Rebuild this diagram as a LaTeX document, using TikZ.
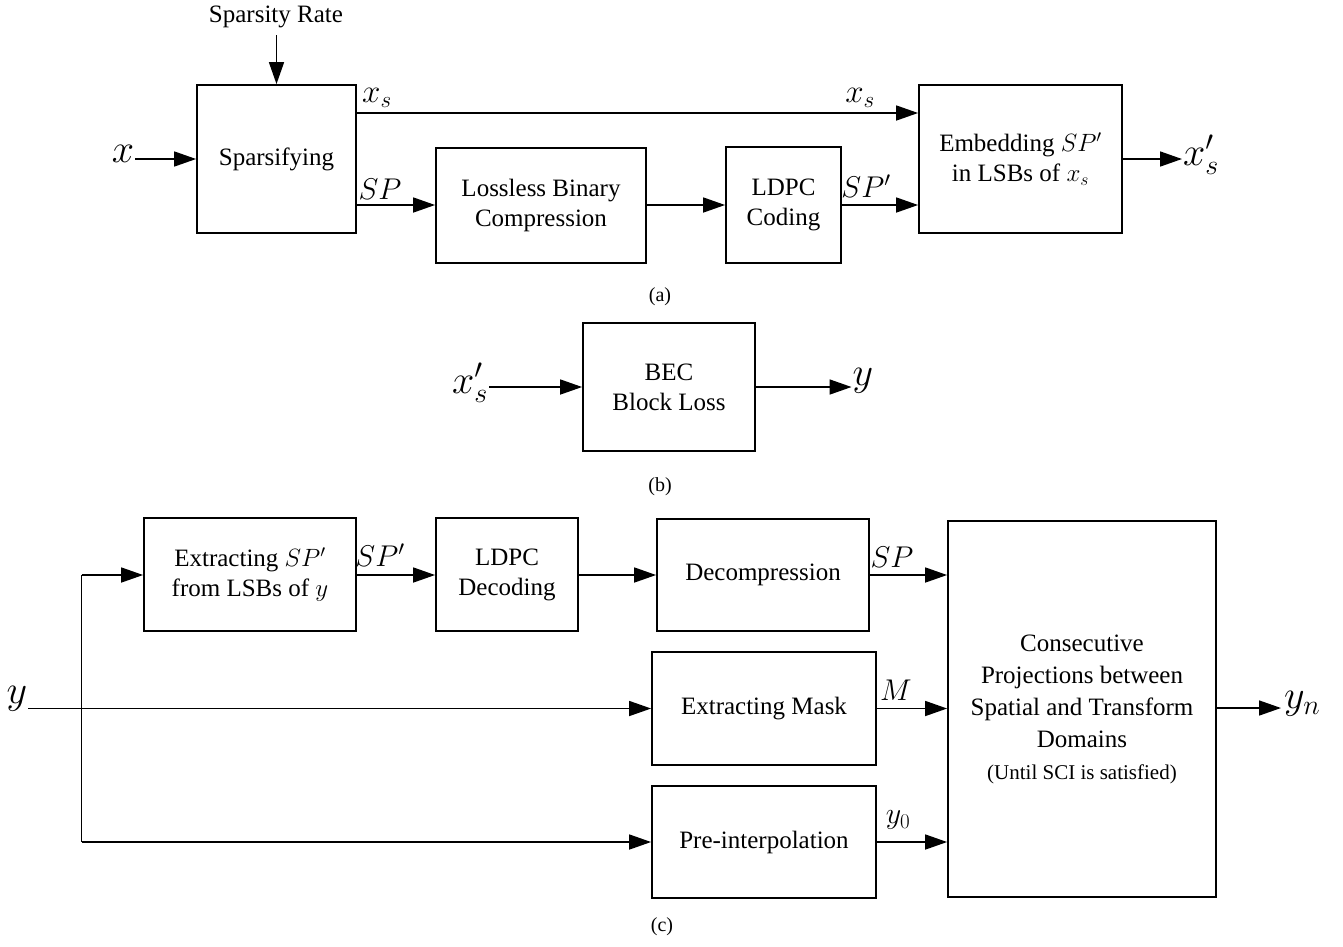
\RequirePackage{fix-cm}
\documentclass[tikz,border=0pt]{standalone}
\usepackage{fontspec}
\setmainfont{Liberation Serif}
\usetikzlibrary{arrows.meta}
\begin{document}
\begin{tikzpicture}[x=1pt,y=-1pt,
  blk/.style={draw, line width=1.8pt, align=center, inner sep=0pt, font=\fontsize{25}{30}\selectfont},
  arr/.style={line width=1.6pt, -{Triangle[length=22pt,width=15pt]}},
  ln/.style={line width=1.6pt},
  lbl/.style={font=\fontsize{30}{30}\selectfont, inner sep=1pt},
  lblx/.style={font=\fontsize{33}{33}\selectfont, inner sep=1pt},
  big/.style={font=\fontsize{40}{44}\selectfont, inner sep=1pt},
  captxt/.style={font=\fontsize{20}{24}\selectfont},
  txt/.style={font=\fontsize{25}{30}\selectfont, inner sep=2pt}]
\useasboundingbox (0,0) rectangle (1343,946);

% ---------------- (a)
\node[blk, minimum width=159pt, minimum height=148pt] (spar) at (276.5,159) {Sparsifying};
\node[blk, minimum width=210pt, minimum height=115pt] (lbc) at (541,205.5) {Lossless Binary\\Compression};
\node[blk, minimum width=115pt, minimum height=116pt] (ldpc) at (783.5,205) {LDPC\\Coding};
\node[blk, minimum width=203pt, minimum height=148pt] (emb) at (1020.5,159) {Embedding $SP'$\\in LSBs of $x_s$};

\node[txt] (sr) at (276,17) {Sparsity Rate};
\draw[arr] ([yshift=-5pt]sr.south -| spar.north) -- (spar.north);

\node[big] (xin) at (123,154) {$x$};
\draw[arr] (xin.east |- spar.west) -- (spar.west);

\coordinate (xsa) at (356,113);
\coordinate (xsb) at (919,113);
\draw[arr] (spar.east |- xsa) -- (emb.west |- xsb);
\node[lblx] (xs1) at (377,98) {$x_s$};
\node[lblx] (xs2) at (860,98) {$x_s$};

\coordinate (spy) at (0,205);
\draw[arr] (spar.east |- spy) -- (lbc.west |- spy);
\node[lbl] (sp1) at (380,189) {$SP$};
\draw[arr] (lbc.east |- spy) -- (ldpc.west |- spy);
\draw[arr] (ldpc.east |- spy) -- (emb.west |- spy);
\node[lbl] (sp2) at (866,186) {$SP'$};

\node[big, anchor=west] (xout) at (1182,155) {$x_s^{\prime}$};
\draw[arr] (emb.east) -- (xout.west |- emb.east);

\node[captxt] (capa) at (660,297) {(a)};

% ---------------- (b)
\node[blk, minimum width=172pt, minimum height=128pt] (bec) at (669,387) {BEC\\Block Loss};
\node[big, anchor=east] (xin2) at (489,383) {$x_s^{\prime}$};
\draw[arr] (xin2.east |- bec.west) -- (bec.west);
\node[big] (yb) at (863,381) {$y$};
\draw[arr] (bec.east) -- (yb.west |- bec.east);
\node[captxt] (capb) at (660,487) {(b)};

% ---------------- (c)
\node[blk, minimum width=212pt, minimum height=113pt] (ext) at (250,574.5) {Extracting $SP'$\\from LSBs of $y$};
\node[blk, minimum width=142pt, minimum height=113pt] (ldpcd) at (507,574.5) {LDPC\\Decoding};
\node[blk, minimum width=212pt, minimum height=112pt] (dec) at (763,575) {Decompression};
\node[blk, minimum width=224pt, minimum height=113pt] (mask) at (764,708.5) {Extracting Mask};
\node[blk, minimum width=224pt, minimum height=112pt] (pre) at (764,842) {Pre-interpolation};
\node[blk, minimum width=268pt, minimum height=376pt, font=\fontsize{25}{32}\selectfont] (cons) at (1082,709)
  {Consecutive\\Projections between\\Spatial and Transform\\Domains\\{\fontsize{21}{32}\selectfont (Until SCI is satisfied)}};

\node[big] (yc) at (17,699) {$y$};
\coordinate (jt) at (81.5,575);
\coordinate (jb) at (81.5,842);
\draw[arr] (yc.east |- mask.west) -- (mask.west);
\draw[ln] (jb) -- (jt);
\draw[arr] (jt) -- (ext.west |- jt);
\draw[arr] (jb) -- (pre.west);

\draw[arr] (ext.east |- jt) -- (ldpcd.west |- jt);
\node[lbl] (sp3) at (380,555) {$SP'$};
\draw[arr] (ldpcd.east |- jt) -- (dec.west |- jt);
\draw[arr] (dec.east |- jt) -- (cons.west |- jt);
\node[lbl] (sp4) at (892,557) {$SP$};
\draw[arr] (mask.east) -- (cons.west |- mask.east);
\node[lbl] (mm) at (896,690) {$M$};
\draw[arr] (pre.east) -- (cons.west |- pre.east);
\node[lbl] (y0) at (898,820) {$y_0$};

\coordinate (yo) at (1281,708);
\draw[arr] (cons.east |- yo) -- (yo);
\node[big, anchor=west] (yn) at (1283,704) {$y_n$};

\node[captxt] (capc) at (662,927) {(c)};
\end{tikzpicture}
\end{document}
